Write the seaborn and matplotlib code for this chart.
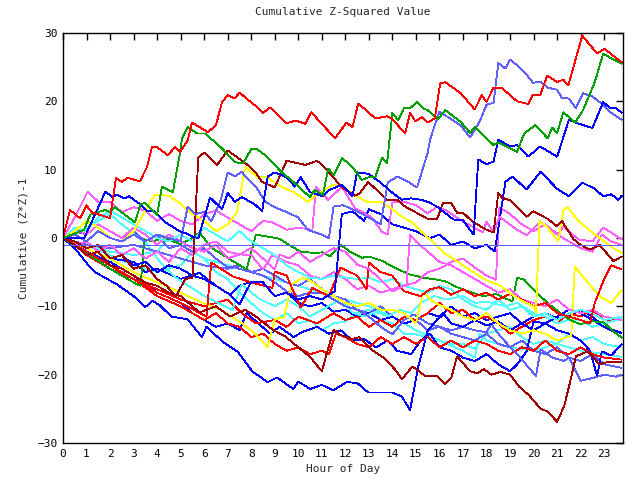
import matplotlib
matplotlib.use("Agg")
import matplotlib.pyplot as plt
import pandas as pd
import seaborn as sns

# ---------------- data: (hour, cumulative value) ----------------
red_a = [(0,0),(0.3,4.1),(0.72,2.9),(1.0,4.8),(1.2,3.8),(2.0,2.9),(2.25,8.8),(2.5,8.2),(2.75,8.8),(3.27,8.3),
         (3.57,10.4),(3.78,13.3),(4.0,13.3),(4.46,12.1),(4.75,13.3),(4.97,12.6),(5.3,14.3),(5.48,16.9),(6.16,15.5),
         (6.5,16.5),(6.76,19.9),(7.0,20.9),(7.3,20.4),(7.5,21.3),(7.8,20.4),(8.16,19.4),(8.5,18.3),(8.8,19.1),
         (9.5,16.8),(9.9,17.2),(10.3,16.7),(10.55,18.4),(11.56,14.6),(12.05,16.9),(12.3,16.2),(12.55,19.7),
         (13.27,17.5),(13.77,17.8),(14.0,17.4),(14.54,15.3),(14.75,18.3),(14.97,17.1),(15.27,17.7),(15.5,16.9),
         (15.8,17.5),(16.03,22.6),(16.25,22.8),(16.9,21.2),(17.5,18.8),(17.8,20.9),(18.0,19.9),(18.3,22.0),
         (18.67,21.9),(19.3,20.0),(19.77,19.6),(19.98,21.0),(20.28,20.9),(20.58,23.8),(21.0,22.8),(21.26,23.2),
         (21.47,22.3),(22.07,29.6),(22.7,27.0),(23.0,27.7),(23.75,25.7)]
green_a = [(0,0),(0.9,1.2),(1.15,3.4),(1.5,3.8),(1.8,4.1),(2.0,3.8),(2.2,4.5),(3.06,2.3),(3.3,5.0),(3.5,5.1),
           (4.0,3.4),(4.2,7.5),(4.67,6.7),(4.97,12.4),(5.06,14.6),(5.3,16.2),(5.7,15.3),(6.04,15.3),(6.76,13.1),
           (7.3,11.1),(7.65,10.9),(8.0,13.0),(8.2,13.1),(8.6,12.1),(9.3,9.6),(9.7,8.5),(10.16,7.0),(10.5,6.0),
           (10.7,7.0),(11.05,6.3),(11.27,10.2),(11.5,9.2),(11.86,11.7),(12.3,10.4),(12.7,8.5),(13.0,8.9),
           (13.27,8.9),(13.56,11.8),(13.77,10.9),(14.0,18.3),(14.25,17.2),(14.5,19.1),(14.75,19.0),(15.05,19.9),
           (15.3,19.0),(15.5,18.7),(15.94,17.4),(16.25,18.7),(16.9,17.0),(17.3,15.4),(17.5,16.2),(18.3,13.6),
           (18.5,14.0),(18.9,13.3),(19.3,12.6),(19.6,15.3),(20.07,16.5),(20.6,14.6),(20.8,16.2),(21.0,15.3),
           (21.26,18.4),(21.77,16.9),(22.1,18.7),(22.6,22.8),(22.96,27.0),(23.25,26.4),(23.75,25.5)]
lblue_a = [(0,0),(0.5,0.5),(1,-0.5),(1.5,1),(2,0),(2.5,-0.5),(3,0.5),(3.5,-0.5),(4,0.5),(4.5,0),(5.0,-0.5),
           (5.3,4.6),(5.6,3.5),(6.0,3.8),(6.3,2.4),(6.7,5.5),(7.0,9.6),(7.3,9.0),(7.6,9.7),(7.74,9.0),(8.2,7.5),
           (8.6,5.3),(9.0,4.5),(9.5,3.8),(10.0,3.0),(10.4,1.2),(11.0,0.5),(11.3,0.0),(11.5,4.6),(11.9,4.8),
           (12.5,3.9),(13.0,3.0),(13.5,2.0),(13.8,8.1),(14.2,9.0),(14.67,8.2),(15.05,7.4),(15.5,12.5),(15.6,14.4),
           (15.8,16.5),(16.0,18.5),(16.4,17.6),(16.9,16.5),(17.3,14.7),(17.7,17.0),(18.0,19.5),(18.3,19.8),
           (18.5,25.6),(18.8,24.8),(19.0,26.1),(19.4,25.0),(19.7,23.9),(19.98,22.7),(20.3,22.9),(20.6,22.0),
           (21.0,21.7),(21.2,20.5),(21.5,20.4),(21.8,19.0),(22.1,21.2),(22.5,20.7),(22.96,19.5),(23.3,18.3),(23.75,17.3)]
blue_a = [(0,0),(0.9,0),(1.1,1.5),(1.45,4.1),(1.8,6.8),(2.1,6.0),(2.3,6.3),(2.6,5.8),(2.8,6.1),(3.3,4.9),
          (3.6,3.9),(3.9,3.9),(4.3,2.4),(5.0,0.9),(5.3,0.6),(5.5,0.2),(5.75,0.0),(6.25,5.9),(6.76,4.2),(7.0,6.6),
          (7.3,5.3),(7.6,6.0),(8.16,4.9),(8.46,3.9),(8.7,9.0),(9.0,9.6),(9.5,8.9),(9.86,7.5),(10.1,8.9),(10.5,6.7),
          (11.05,6.1),(11.3,7.0),(11.86,7.8),(12.3,6.1),(12.5,9.6),(12.97,9.4),(13.5,8.1),(14.0,6.6),(14.4,5.6),
          (14.8,5.8),(15.2,5.6),(15.5,5.3),(15.9,4.6),(16.15,3.9),(16.6,2.7),(17.0,2.6),(17.45,0.5),(17.65,11.5),
          (18.0,10.8),(18.3,11.2),(18.5,14.4),(19.0,13.4),(19.3,13.6),(19.77,11.9),(20.28,13.4),(21.0,11.9),
          (21.5,17.3),(21.85,16.8),(22.5,16.1),(22.96,19.9),(23.25,19.0),(23.5,19.0),(23.75,18.3)]
blue_b = [(0,0),(0.5,-0.5),(1,-1.5),(1.5,-1),(2,-3),(2.5,-2.5),(3,-4),(3.5,-3.5),(4,-5),(4.5,-4),(5,-4.5),
          (5.5,-5.5),(6,-6),(6.5,-7),(7.1,-8.3),(7.5,-9.7),(8.0,-6.4),(8.5,-6.5),(9.0,-8.5),(9.5,-8),(10,-9),
          (10.5,-8.5),(11,-9),(11.55,-7.8),(11.85,3.5),(12.3,3.9),(12.8,2.5),(13.0,4.2),(13.5,3.5),(14,2),
          (14.5,1.5),(15,1),(15.6,0),(16,0.5),(16.5,-1),(17,-0.5),(17.5,-1.5),(18.0,-1),(18.35,-2),(18.8,8.2),
          (19.1,9.0),(19.7,7.1),(20.3,9.7),(21.0,7.2),(21.5,6.1),(22.07,8.1),(22.6,7.2),(22.96,6.1),(23.3,6.4),
          (23.6,5.6),(23.75,6.2)]
blue_c = [(0,0),(0.5,-1.5),(1.06,-3.9),(1.36,-5.0),(2.3,-6.8),(3.0,-8.5),(3.5,-10.1),(3.8,-9.2),(4.1,-9.8),
          (4.6,-11.5),(5.3,-11.9),(5.9,-14.5),(6.1,-13.0),(6.76,-15.1),(7.44,-16.7),(8.04,-19.5),(8.7,-21.1),
          (9.1,-20.4),(9.78,-22.1),(10.0,-21.0),(10.5,-22.1),(11.0,-21.5),(11.48,-22.3),(12.05,-21.1),(12.5,-21.2),
          (12.97,-22.6),(13.98,-22.6),(14.4,-23.2),(14.75,-25.2),(15.1,-18.8),(15.5,-13.6),(15.9,-11.9),
          (16.2,-11.2),(16.5,-12.5),(17,-13),(17.5,-12),(18,-12.8),(18.5,-12.2),(19,-13.5),(19.5,-12.5),
          (20,-13.5),(20.5,-12.5),(21,-11.5),(21.5,-10.5),(22,-11),(22.5,-12),(23,-13),(23.4,-13.7),(23.75,-13.9)]
blue_d = [(0,0),(0.5,-0.5),(1,-2),(2,-3.5),(3,-5.5),(4,-8),(5,-9.5),(5.5,-11),(6,-12),(6.5,-13),(7,-12.5),
          (7.5,-13.5),(7.8,-11),(8.3,-12.5),(8.8,-14),(9.2,-13),(9.8,-14.5),(10.2,-13.7),(10.8,-13),(11.3,-14),
          (11.8,-13.5),(12.3,-15),(12.8,-14.8),(13.3,-16),(13.8,-15),(14.2,-16.5),(14.8,-17),(15.2,-15),
          (15.6,-14),(16,-16),(16.5,-16.5),(17,-17.5),(17.5,-18),(18,-17),(18.5,-18.5),(19,-19.5),(19.3,-18.5),
          (19.7,-16.6),(20.0,-12.2),(20.5,-12.5),(21,-13.5),(21.5,-14),(22,-15),(22.4,-16.5),(22.7,-20.2),
          (22.9,-16.6),(23.3,-17.2),(23.75,-15.5)]
blue_e = [(0,0),(0.5,-1),(1,-1.5),(2,-3),(3,-3.5),(3.5,-5),(4,-4.5),(5,-6),(5.8,-5.1),(6.5,-7),(7.1,-8.3),
          (7.5,-7),(8,-6.4),(8.5,-6.5),(9,-8.5),(9.5,-8),(10,-9.5),(10.5,-10),(11,-9.5),(11.5,-10.8),(12,-10.5),
          (12.5,-11.5),(13,-11),(13.5,-12),(14,-11.5),(14.5,-12.5),(15,-12),(15.5,-11),(16,-11.5),(16.5,-10),
          (17,-11.5),(17.5,-11),(18,-12),(18.5,-11.5),(19,-11),(19.5,-12.5),(20,-11.5),(20.5,-11),(21,-11.8),
          (21.5,-11.5),(22,-10.5),(22.5,-11.5),(23,-13),(23.75,-13.9)]
red_b = [(0,0),(1,-2),(2,-4),(3,-6),(4,-8),(5,-9.5),(6.1,-11.5),(6.3,-3.6),(7.2,-5.6),(8,-6.5),(8.9,-7.3),
         (9.0,-4.9),(9.5,-5.5),(10.1,-10.2),(10.6,-7.3),(11.3,-8.5),(11.8,-4.3),(12.5,-5.5),(12.9,-7.5),(13.0,-3.6),
         (13.5,-5),(14.0,-5.5),(14.5,-7.8),(15.2,-8.5),(15.6,-7.5),(16.0,-7.2),(16.5,-8.3),(17.0,-7.5),
         (17.5,-8.5),(18,-8),(18.5,-9),(19,-8.2),(19.5,-9),(20,-10),(20.5,-9.5),(21,-11),(21.5,-11.5),(22.0,-12),
         (22.4,-12.5),(22.6,-9.5),(23.0,-6),(23.3,-4.0),(23.75,-4.6)]
red_c = [(0,0),(1,-2),(2,-4),(3,-6),(4,-7.5),(5,-9),(6,-10),(7,-9),(7.6,-11),(8.2,-12.5),(9,-12),(9.5,-13),
         (10,-11.5),(10.8,-12.5),(11.5,-11),(12,-12),(12.5,-11.5),(13,-13),(13.5,-12),(14,-13),(14.5,-11.5),
         (15,-12),(15.5,-11),(16,-9.5),(16.5,-11),(17,-10.5),(17.5,-12),(18,-11.5),(18.5,-12.5),(19,-14),
         (19.5,-13),(20,-12),(20.5,-11.5),(21,-12.5),(21.5,-11),(22,-11.5),(22.5,-10.5),(23,-12),(23.75,-12)]
red_d = [(0,0),(0.5,-1),(1,-2.5),(2,-4.5),(3,-6),(4,-8.5),(5,-10),(6,-12),(6.5,-11),(7,-12.5),(7.5,-13),
         (8,-14.5),(8.5,-14),(9,-15.5),(9.5,-16.5),(10,-16),(10.5,-17),(11,-16.5),(11.3,-17),(11.6,-14),
         (12,-14.5),(12.5,-15.5),(13,-16),(13.5,-14.5),(14,-15.5),(14.5,-14.5),(15,-15.5),(15.5,-14.5),
         (16,-16),(16.5,-15),(17,-16),(17.5,-15),(18,-15.5),(18.5,-16.5),(19,-17),(19.5,-16),(20,-16.5),
         (20.5,-15),(21,-16.5),(21.5,-17),(22,-16),(22.5,-17),(23,-17.5),(23.75,-17.8)]
green_b = [(0,0),(1,-2.2),(2,-4.5),(3,-6.5),(3.3,-7.0),(3.45,-0.2),(3.8,-0.5),(4.3,0),(5,-0.9),(5.5,0),
           (5.8,0.8),(6.3,-1.4),(6.9,-2.7),(7.8,-4.6),(8.2,0.5),(8.7,0.2),(9.2,-0.1),(9.6,-1.0),(10.1,-2.0),
           (10.7,-2.2),(11.0,-2.1),(11.35,-2.7),(11.8,-1.0),(12.2,-2.0),(12.7,-2.9),(13.0,-2.7),(13.6,-3.4),
           (14.0,-4.2),(14.7,-5.3),(15.3,-5.8),(15.9,-6.1),(16.3,-6.4),(16.75,-7.2),(17.3,-7.9),(17.85,-8.5),
           (18.4,-8.2),(19.1,-9.3),(19.3,-5.8),(19.6,-6.1),(20.0,-7.6),(20.6,-9.5),(21.1,-10.9),(21.55,-12.0),
           (21.97,-12.6),(22.5,-12.2),(22.96,-12.3),(23.4,-13.7),(23.75,-14.6)]
lblue_b = [(0,0),(1,-1),(2,-1.5),(3,-1),(4,-2),(5,-3),(6,-4),(7,-4.5),(7.3,-4.3),(8,-5),(8.5,-5.5),(9,-6.5),
           (9.5,-7.8),(10,-8.5),(10.5,-8),(11,-8),(11.5,-9),(12,-10),(12.5,-10.5),(13,-11.5),(13.5,-13),
           (14,-14.1),(14.5,-12),(14.9,-11.2),(15.5,-12.5),(16,-13),(16.5,-13.5),(17,-13),(17.5,-13.5),
           (18,-13.8),(18.2,-12.6),(18.5,-14),(18.8,-15.2),(19.3,-17),(19.8,-19),(20.1,-20.2),(20.3,-16.3),
           (20.8,-17.5),(21.3,-18),(21.5,-17.5),(22.0,-20.9),(22.5,-20.5),(23.0,-20),(23.5,-20.3),(23.75,-20.0)]
lblue_c = [(0,0),(0.5,1),(1,0.5),(1.5,2),(2,1),(2.5,0),(3,1),(3.5,-0.5),(4,0.5),(4.5,-1.5),(5,-1),(5.5,-2),
           (6,-1.5),(6.5,-3),(7,-4.3),(7.5,-4),(8,-5),(8.5,-4.5),(9,-5.5),(9.5,-6.5),(10,-7),(10.5,-6),
           (11,-7.5),(11.5,-8.5),(12,-9),(12.5,-10.5),(13,-11),(13.5,-10),(14,-11.5),(14.5,-12.5),(15,-12),
           (15.5,-13.5),(16,-13),(16.5,-14),(17,-14.5),(17.5,-15),(18,-14),(18.5,-15.5),(19,-16),(19.5,-15),
           (20,-16.5),(20.5,-17),(21,-16),(21.5,-17.5),(22,-18),(22.5,-17),(23,-18.5),(23.75,-19)]
cyan_a = [(0,0),(0.5,1.5),(1,1),(1.5,3),(2,4),(2.5,3),(3,2),(3.5,1),(4,0),(4.5,-0.5),(5,0.5),(5.5,-0.5),
          (6,1.5),(6.5,0.5),(7,-0.5),(7.5,1),(8,-0.5),(8.5,-1.5),(9,-2.5),(9.5,-4),(10,-5),(10.5,-5.8),(11,-6),
          (11.5,-5.5),(12,-5.8),(12.5,-6),(13,-5.8),(13.5,-6.5),(14,-6),(14.5,-7),(15,-7.5),(15.5,-8),(16,-7),
          (16.5,-7.5),(17,-9),(17.5,-10),(18,-10.5),(18.5,-9),(19,-10.5),(19.5,-10),(20,-11.5),(20.5,-11),
          (21,-12),(21.5,-11),(22,-10.5),(22.5,-11),(23,-12),(23.75,-11.5)]
cyan_b = [(0,0),(1,1.5),(2,3.5),(2.5,2),(3.6,-1),(4.1,-3.4),(4.8,-5.8),(6.0,-8.5),(7.2,-10.5),(7.6,-6.8),
          (8.3,-8.8),(9,-10),(9.5,-9),(10,-10),(10.5,-11.5),(11,-10.5),(11.8,-9),(12.3,-10.9),(12.8,-11.5),
          (13.3,-10.8),(13.8,-11.5),(14.3,-10.5),(14.8,-11),(15.2,-9.5),(15.8,-8.5),(16.3,-9),(17,-8.5),
          (17.5,-9.5),(18,-9.3),(18.8,-10),(19.3,-9.5),(20,-11),(20.5,-11.5),(21,-12.5),(21.5,-12),(22,-12),
          (22.5,-13),(23,-12.5),(23.75,-11.8)]
cyan_c = [(0,0),(1,-1),(2,-2),(3,-2.5),(4,-2),(4.5,0),(5,-1),(5.5,-2),(6,-3),(7,-4),(8,-5),(9,-6),(10,-7),
          (11,-8),(12,-9),(13,-10),(14,-11.5),(15,-13.5),(16,-15),(17,-16.5),(17.5,-17.5),(17.7,-14),(18,-15),
          (19,-16),(20,-16.5),(21,-15.5),(22,-16.5),(23,-17),(23.75,-17.4)]
cyan_d = [(0,0),(1,-1),(2,-2.5),(3,-4),(4,-5),(5,-4),(5.5,-2),(6,-3),(6.5,-5),(7,-6),(7.5,-8),(8,-9.5),
          (8.5,-11),(9,-12),(9.5,-11),(10,-12.5),(10.5,-12),(11,-13.5),(11.5,-12.5),(12,-12.2),(12.5,-11),
          (13,-10.5),(13.5,-12),(14,-12.5),(14.5,-14),(15,-14.1),(15.5,-14.5),(16,-15),(16.5,-15.5),(17,-15.5),
          (17.5,-16.2),(18,-14),(18.5,-13.5),(19,-13),(19.5,-14.5),(20,-15.5),(20.5,-15),(21,-15.5),(21.5,-14),
          (22,-15),(22.5,-14.5),(23,-15.5),(23.75,-16)]
magenta_a = [(0,0),(0.5,3),(1.05,6.8),(1.5,5.3),(2.0,5.3),(2.5,3.8),(3.0,4.5),(3.5,4.0),(4.0,2.5),(4.5,3.5),
             (5.0,2.5),(5.5,2.0),(6.0,3.5),(6.5,4.0),(7.0,3.0),(7.5,2.0),(8.0,1.0),(8.5,2.5),(8.9,2.3),(9.5,1.2),
             (10.0,1.5),(10.6,1.2),(10.75,7.5),(11.27,5.6),(11.86,7.5),(12.4,4.4),(13.1,3.1),(13.56,0.9),
             (13.8,0.5),(14.0,5.2),(14.5,5.3),(15.0,4.8),(15.5,3.6),(15.9,4.6),(16.3,4.0),(17.0,2.4),(17.85,0.8),
             (18.0,2.4),(18.3,0.8),(18.55,3.1),(19.3,1.2),(19.7,0.4),(20.28,2.4),(20.6,1.5),(21.05,0.6),
             (21.26,1.7),(21.6,0.7),(21.9,-0.2),(22.5,-0.5),(22.96,1.5),(23.3,0.8),(23.75,-0.2)]
magenta_b = [(0,0),(0.5,-1),(1,-0.5),(1.5,-2),(2,-1),(2.5,-2.5),(3,-1.5),(3.5,-3),(4,-2),(4.5,-3.5),(5,-1.5),
             (5.5,-2.5),(6,-1),(6.5,-0.5),(7,-2),(7.5,-2.4),(8,-1.5),(8.5,-3),(9,-4.6),(9.2,-2.4),(9.6,-3),
             (10,-2),(10.5,-3.5),(11,-2.5),(11.5,-1.5),(12,-2),(12.5,-3.9),(13,-4.5),(13.5,-6.1),(14,-7.8),
             (14.5,-7),(15,-6.5),(15.5,-5),(16,-4.5),(16.5,-3.5),(17,-3),(17.5,-4.3),(18,-5.5),(18.4,-6.1),
             (18.55,4.5),(19,3.5),(19.5,2.0),(20,1.0),(20.5,2.0),(21,0.5),(21.5,-0.5),(22,-1.5),(22.5,-2),
             (22.9,0.5),(23.3,-0.5),(23.75,-1.0)]
magenta_c = [(0,0),(0.5,1.5),(1,0.5),(1.5,2),(2,1),(2.5,0),(3,1.5),(3.5,0.5),(4,-1),(4.5,0.5),(5,-0.5),
             (5.5,-1.5),(6,-2),(6.5,-1),(7,-3),(7.5,-2.4),(8,-2.5),(8.5,-4.6),(8.9,-2.5),(9.5,-3.5),(10,-4),
             (10.5,-5.5),(11,-6),(11.5,-5),(12,-6),(12.5,-7.5),(13,-7),(13.5,-8),(14,-7.5),(14.6,-6.8),
             (14.75,0.5),(15,-0.5),(15.5,-2),(16,-3.5),(16.5,-4),(17,-5),(17.5,-6),(18,-7),(18.5,-8),(19,-7.5),
             (19.5,-9),(20,-9.5),(20.5,-10),(21,-9),(21.5,-10.5),(22,-11),(22.5,-10.5),(23,-11.5),(23.75,-12)]
yellow_a = [(0,0),(0.5,1),(1,2.5),(1.5,1.5),(2,0),(2.5,-0.5),(3,1),(3.5,4),(3.9,6.3),(4.5,6.2),(5,5),
            (5.5,3.5),(6,2.5),(6.5,1),(7,2),(7.4,3.8),(7.74,10.4),(8.3,8.8),(8.6,9.0),(9.3,7.5),(9.86,6.6),
            (10.4,5.3),(10.9,6.6),(11.48,7.8),(11.9,7.5),(12.4,6.3),(12.97,5.2),(13.5,5.3),(14.0,4.2),(14.4,3.1),
            (14.84,2.3),(15.26,0.8),(15.7,-0.5),(16.2,-2.2),(16.75,-3.4),(17.4,-4.9),(18.0,-6.2),(18.5,-6.8),
            (18.9,-7.8),(19.4,-9.0),(20.0,-10.0),(20.1,-11.0),(20.25,2.5),(20.6,1.5),(21.05,-0.5),(21.26,4.1),
            (21.45,4.5),(21.9,2.5),(22.5,0.8),(23.0,-0.5),(23.4,-1.5),(23.75,-2.2)]
yellow_c = [(0,0),(1,-1.5),(2,-3),(3,-5),(4,-6.5),(5,-8),(5.8,-9.3),(6.7,-10.5),(7.65,-12.6),(8.2,-14.1),
            (8.7,-16.0),(9.0,-11.9),(9.4,-11.6),(9.7,-6.8),(10.2,-5.8),(10.6,-6.4),(11,-7.5),(11.5,-8.5),(12,-9.5),
            (12.5,-10),(13,-9.5),(13.5,-10.5),(14,-10.5),(14.5,-11),(15,-12.5),(15.3,-8),(15.8,-9.5),(16.5,-10.5),
            (17,-11.5),(17.5,-12),(18,-11),(18.5,-12.5),(19,-13.5),(19.5,-14),(20,-13.5),(20.5,-14),(21,-15),
            (21.6,-14.3),(21.75,-4.2),(22.3,-6.5),(22.8,-8.5),(23.3,-9.5),(23.75,-7.6)]
brown_a = [(0,0),(0.5,-0.5),(1,-1.5),(1.5,-1),(2,-3),(2.5,-2.5),(3,-4.5),(3.5,-4),(4,-6),(4.4,-7),(4.8,-8.5),
           (5.2,-6),(5.5,-5.8),(5.75,11.8),(6.0,12.5),(6.55,10.7),(7.0,12.8),(7.74,11.0),(8.16,9.7),(8.46,8.2),
           (9.0,7.4),(9.5,11.3),(10.3,10.7),(10.8,11.3),(11.1,10.4),(11.86,7.4),(12.4,6.2),(12.6,6.5),(12.97,8.2),
           (13.77,5.6),(14.2,5.6),(14.54,4.6),(15.5,2.8),(15.9,2.8),(16.15,5.1),(16.5,5.1),(16.75,3.7),(17.0,3.7),
           (17.4,2.4),(18.0,1.2),(18.3,0.8),(18.5,6.6),(18.65,5.9),(19.0,5.5),(19.7,3.1),(19.98,3.9),(20.6,2.8),
           (21.0,1.7),(21.2,2.5),(21.7,-0.2),(22.0,-1.0),(22.4,-1.7),(22.8,-1.0),(23.4,-3.4),(23.75,-2.7)]
brown_b = [(0,0),(0.5,-1),(1,-2.5),(1.5,-2),(2,-4),(2.5,-4.5),(3,-5.5),(3.5,-6.5),(4,-7),(4.5,-8),(5,-8.5),
           (5.8,-10.9),(6.5,-10),(7.1,-11.5),(7.74,-10.5),(8.2,-11.5),(8.9,-13.4),(9.44,-14.4),(9.86,-15.6),
           (10.5,-17.4),(11.0,-19.5),(11.5,-13.4),(11.8,-14.2),(12.3,-14.8),(12.6,-14.5),(13.1,-16.3),
           (13.7,-17.7),(14.2,-19.6),(14.4,-20.7),(14.85,-18.8),(15.0,-19.2),(15.4,-20.2),(15.9,-20.2),
           (16.24,-21.4),(16.5,-20.5),(16.75,-17.3),(17.3,-19.5),(17.6,-19.8),(17.9,-19.2),(18.2,-20.0),
           (18.6,-19.6),(19.0,-20.0),(19.4,-21.8),(19.8,-23.0),(20.3,-25.0),(20.6,-25.4),(21.0,-26.9),
           (21.3,-24.6),(21.55,-21.1),(21.8,-17.3),(22.3,-16.6),(22.5,-17.3),(22.8,-18.5),(23.1,-18.2),
           (23.4,-18.2),(23.75,-18.2)]
ref_line = [(0,-1),(23.75,-1)]

# drawing order (later on top)
series_order = ["cyan_c", "cyan_d", "lblue_c", "blue_d", "red_d", "blue_e", "red_c", "cyan_b", "lblue_b",
                "blue_c", "yellow_c", "green_b", "magenta_c", "cyan_a", "red_b", "magenta_b", "brown_b",
                "blue_b", "magenta_a", "yellow_a", "brown_a", "lblue_a", "blue_a", "green_a", "red_a", "ref_line"]
series_points = {"red_a": red_a, "green_a": green_a, "lblue_a": lblue_a, "blue_a": blue_a, "blue_b": blue_b,
                 "blue_c": blue_c, "blue_d": blue_d, "blue_e": blue_e, "red_b": red_b, "red_c": red_c,
                 "red_d": red_d, "green_b": green_b, "lblue_b": lblue_b, "lblue_c": lblue_c, "cyan_a": cyan_a,
                 "cyan_b": cyan_b, "cyan_c": cyan_c, "cyan_d": cyan_d, "magenta_a": magenta_a,
                 "magenta_b": magenta_b, "magenta_c": magenta_c, "yellow_a": yellow_a, "yellow_c": yellow_c,
                 "brown_a": brown_a, "brown_b": brown_b, "ref_line": ref_line}

RED, GREEN, BLUE, LBLUE = "#ff0000", "#00a000", "#0000ff", "#6060ff"
MAGENTA, CYAN, YELLOW, BROWN = "#ff60ff", "#50ffff", "#ffff00", "#a00000"
palette = {"red_a": RED, "red_b": RED, "red_c": RED, "red_d": RED, "green_a": GREEN, "green_b": GREEN,
           "blue_a": BLUE, "blue_b": BLUE, "blue_c": BLUE, "blue_d": BLUE, "blue_e": BLUE,
           "lblue_a": LBLUE, "lblue_b": LBLUE, "lblue_c": LBLUE, "cyan_a": CYAN, "cyan_b": CYAN,
           "cyan_c": CYAN, "cyan_d": CYAN, "magenta_a": MAGENTA, "magenta_b": MAGENTA, "magenta_c": MAGENTA,
           "yellow_a": YELLOW, "yellow_c": YELLOW, "brown_a": BROWN, "brown_b": BROWN, "ref_line": LBLUE}

rows = []
for name in series_order:
    for i, (h, v) in enumerate(series_points[name]):
        rows.append((name, i, h, v))
df = pd.DataFrame(rows, columns=["series", "idx", "hour", "value"])

# ---------------- plotting ----------------
sns.set_style("white")
plt.rcParams["font.family"] = ["DejaVu Sans Mono", "DejaVu Sans"]
plt.rcParams["lines.solid_joinstyle"] = "miter"
plt.rcParams["lines.solid_capstyle"] = "butt"

fig = plt.figure(figsize=(6.4, 4.8), dpi=100)
ax = fig.add_axes([63 / 640, 37 / 480, 560 / 640, 410 / 480])

sns.lineplot(data=df, x="hour", y="value", hue="series", hue_order=series_order, palette=palette,
             estimator=None, sort=False, legend=False, linewidth=0.6, ax=ax)
for ln in ax.lines:
    ln.set_linewidth(0.6)
    ln.set_antialiased(False)
    ln.set_solid_joinstyle("miter")

ax.set_xlim(0, 23.8)
ax.set_ylim(-30, 30)
ax.set_xticks(range(24))
ax.set_yticks(range(-30, 31, 10))
ax.tick_params(axis="both", direction="in", length=5, width=1, top=True, right=True,
               labelsize=8, pad=4, colors="black")
for s in ax.spines.values():
    s.set_visible(True)
    s.set_color("black")
    s.set_linewidth(1)

ax.set_title("Cumulative Z-Squared Value", fontsize=8, pad=13)
ax.set_xlabel("Hour of Day", fontsize=8, labelpad=4)
ax.set_ylabel("Cumulative (Z*Z)-1", fontsize=8, labelpad=6)

fig.savefig("out.png", dpi=100)
